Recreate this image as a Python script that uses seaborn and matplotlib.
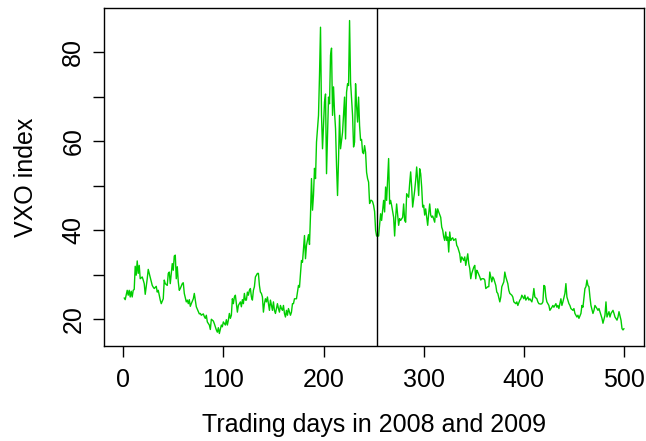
import matplotlib
matplotlib.use("Agg")
import matplotlib.pyplot as plt
import pandas as pd
import seaborn as sns
from matplotlib.ticker import FixedFormatter, FixedLocator

# VXO closing levels over the 2008-2009 trading days
trading_day = [
    1, 2, 4, 5, 6, 7, 8, 9, 10, 11, 12, 13, 14, 15, 16, 17, 19, 20, 21, 22,
    24, 25, 26, 27, 29, 30, 31, 33, 34, 35, 37, 38, 40, 41, 42, 44, 45, 46, 47, 49,
    50, 51, 52, 53, 54, 55, 56, 57, 59, 60, 61, 63, 64, 65, 66, 67, 68, 70, 71, 72,
    73, 75, 76, 77, 78, 80, 81, 82, 83, 84, 86, 87, 88, 90, 91, 92, 93, 94, 95, 96,
    98, 99, 100, 102, 103, 104, 105, 106, 107, 108, 109, 110, 111, 112, 113, 114, 115, 117, 118, 119,
    120, 121, 122, 123, 124, 125, 126, 127, 128, 129, 130, 131, 132, 134, 135, 136, 137, 138, 139, 140,
    141, 142, 143, 144, 145, 146, 147, 148, 149, 150, 151, 152, 153, 154, 155, 156, 157, 158, 159, 160,
    161, 162, 163, 164, 165, 167, 168, 169, 170, 171, 173, 175, 176, 178, 179, 181, 182, 183, 185, 186,
    187, 188, 189, 190, 191, 192, 193, 195, 196, 197, 198, 199, 201, 202, 203, 205, 206, 207, 208, 209,
    210, 211, 212, 213, 214, 215, 216, 217, 219, 220, 221, 222, 223, 224, 225, 226, 227, 229, 230, 231,
    232, 233, 234, 235, 236, 237, 238, 239, 240, 241, 242, 243, 244, 245, 246, 247, 248, 249, 250, 251,
    252, 253, 255, 257, 258, 260, 261, 262, 263, 265, 266, 267, 268, 270, 271, 272, 273, 275, 276, 277,
    279, 280, 281, 282, 283, 285, 286, 287, 288, 289, 291, 292, 293, 294, 295, 296, 297, 298, 299, 300,
    301, 302, 303, 304, 305, 306, 307, 308, 309, 311, 312, 313, 314, 315, 317, 318, 319, 320, 321, 322,
    323, 324, 325, 326, 327, 328, 329, 330, 332, 333, 334, 336, 337, 338, 340, 341, 342, 344, 345, 346,
    347, 348, 350, 351, 352, 353, 354, 356, 357, 358, 360, 361, 362, 364, 365, 366, 368, 369, 370, 372,
    373, 374, 376, 377, 378, 380, 381, 382, 384, 385, 386, 388, 389, 390, 392, 393, 394, 396, 397, 398,
    400, 401, 402, 404, 405, 406, 408, 409, 410, 411, 413, 414, 415, 417, 418, 419, 420, 421, 422, 423,
    425, 426, 428, 429, 430, 432, 433, 434, 435, 437, 438, 439, 441, 442, 443, 445, 446, 447, 449, 450,
    451, 453, 454, 455, 457, 458, 459, 461, 462, 463, 464, 465, 466, 467, 469, 470, 471, 473, 474, 475,
    477, 478, 479, 481, 482, 483, 485, 486, 487, 489, 490, 491, 493, 494, 495, 497, 498, 499, 500,
]
vxo = [
    24.8, 24.4, 26.5, 25.4, 26.5, 25.0, 26.3, 25.0, 26.5, 26.7, 31.9, 29.9, 33.1, 30.3, 32.1, 29.1, 29.5, 28.8, 28.0, 25.6,
    29.1, 31.2, 30.3, 29.5, 27.6, 27.2, 26.9, 27.4, 26.1, 26.5, 24.3, 23.5, 24.6, 28.8, 28.0, 27.6, 30.3, 30.6, 28.0, 32.5,
    31.0, 34.2, 34.4, 29.1, 31.8, 28.4, 26.5, 26.9, 28.0, 28.2, 25.8, 23.9, 24.3, 23.5, 24.4, 22.9, 23.5, 24.6, 25.8, 24.3,
    22.8, 21.7, 21.2, 21.3, 20.9, 21.2, 20.6, 20.2, 20.9, 19.4, 18.7, 17.7, 20.0, 19.6, 19.0, 18.3, 17.6, 17.1, 18.1, 16.8,
    18.7, 18.3, 19.4, 18.7, 19.9, 18.7, 19.8, 21.3, 20.2, 20.9, 24.6, 23.5, 25.0, 25.4, 23.5, 21.6, 23.1, 23.9, 22.8, 24.4,
    23.5, 25.8, 24.3, 24.3, 26.1, 25.4, 26.5, 26.9, 25.0, 24.3, 26.5, 27.3, 29.5, 30.3, 30.3, 27.6, 26.1, 25.8, 25.0, 21.6,
    23.5, 24.6, 23.9, 25.0, 23.5, 22.0, 24.3, 23.1, 22.0, 23.9, 22.0, 21.3, 22.4, 23.5, 22.4, 21.6, 23.1, 22.4, 22.0, 23.1,
    21.3, 20.5, 22.0, 20.9, 22.4, 20.9, 21.6, 23.5, 23.5, 24.6, 24.6, 27.6, 27.2, 33.2, 32.8, 38.8, 33.6, 36.6, 39.0, 36.8,
    43.4, 51.6, 44.5, 47.9, 53.9, 51.6, 59.8, 65.8, 74.8, 85.6, 65.8, 58.3, 68.8, 70.6, 52.7, 69.9, 68.4, 79.3, 80.9, 65.8,
    72.2, 66.5, 62.8, 54.5, 47.8, 56.0, 65.8, 58.3, 62.0, 65.8, 69.9, 60.5, 71.0, 72.9, 72.5, 87.1, 73.3, 65.8, 58.7, 59.8,
    72.9, 68.0, 64.3, 69.9, 63.5, 60.2, 60.4, 57.5, 57.2, 59.0, 57.5, 53.0, 51.6, 50.8, 46.0, 46.7, 46.7, 46.4, 45.6, 44.2,
    40.0, 38.7, 38.7, 43.7, 42.2, 46.7, 44.1, 49.7, 46.7, 56.1, 45.9, 46.7, 45.6, 42.9, 38.7, 42.9, 45.9, 41.1, 42.6, 42.2,
    42.9, 45.9, 42.2, 41.8, 48.2, 47.4, 50.5, 53.1, 49.7, 45.2, 48.9, 51.2, 54.2, 51.2, 47.8, 53.8, 52.7, 49.7, 45.2, 45.6,
    43.4, 44.8, 42.9, 41.1, 43.7, 45.9, 43.4, 42.9, 43.2, 41.8, 44.8, 42.9, 44.8, 44.1, 42.9, 40.7, 40.0, 38.5, 37.7, 39.6,
    37.7, 38.5, 35.1, 39.6, 37.7, 38.1, 38.3, 37.7, 38.1, 36.6, 36.2, 34.7, 32.8, 34.0, 33.2, 34.0, 32.1, 34.7, 32.5, 31.4,
    29.1, 30.3, 31.7, 32.1, 29.1, 31.0, 30.6, 29.5, 28.8, 29.1, 29.1, 28.8, 26.9, 27.3, 27.3, 30.6, 28.4, 29.5, 29.1, 27.6,
    26.1, 25.8, 23.9, 25.0, 27.3, 28.4, 30.6, 29.5, 28.0, 26.5, 25.8, 25.4, 25.0, 23.9, 23.5, 23.9, 23.1, 24.3, 24.6, 25.4,
    24.6, 25.4, 24.3, 25.0, 24.3, 24.6, 23.9, 25.0, 26.9, 25.0, 24.6, 23.9, 23.5, 23.4, 23.5, 23.9, 27.6, 27.4, 25.0, 23.9,
    23.1, 22.0, 22.7, 23.1, 22.7, 23.5, 22.7, 23.1, 22.4, 24.6, 23.1, 23.9, 25.8, 28.0, 25.0, 23.5, 23.1, 22.4, 22.0, 22.4,
    21.3, 20.5, 20.9, 20.2, 21.3, 23.1, 22.7, 26.9, 27.3, 28.8, 27.6, 27.3, 25.0, 23.1, 21.3, 22.0, 23.1, 22.4, 22.0, 22.4,
    20.9, 20.2, 19.1, 20.9, 23.9, 20.5, 21.7, 20.5, 21.3, 22.0, 21.3, 20.5, 19.8, 20.5, 21.7, 19.8, 17.9, 17.6, 17.9,
]

break_day = 253
x_ticks = [0, 100, 200, 300, 400, 500]
y_ticks = [20, 30, 40, 50, 60, 70, 80]
y_tick_labels = ["20", "", "40", "", "60", "", "80"]

sns.set_theme(style="ticks")
plt.rcParams["font.family"] = ["Liberation Sans", "DejaVu Sans"]

series = pd.DataFrame({"day": trading_day, "vxo": vxo})

fig = plt.figure(figsize=(6.46, 4.41), dpi=100)
ax = fig.add_axes([0.1613, 0.2154, 0.8356, 0.7664])

sns.lineplot(data=series, x="day", y="vxo", color="#00CD00", linewidth=1.0,
             estimator=None, ax=ax)
ax.axvline(break_day, color="black", linewidth=1.0)

# R-style 4% padding around the data range
x_lo, x_hi = 1, 500
x_pad = 0.04 * (x_hi - x_lo)
ax.set_xlim(x_lo - x_pad, x_hi + x_pad)
y_lo, y_hi = series["vxo"].min(), series["vxo"].max()
y_pad = 0.04 * (y_hi - y_lo)
ax.set_ylim(y_lo - y_pad, y_hi + y_pad)

ax.xaxis.set_major_locator(FixedLocator(x_ticks))
ax.yaxis.set_major_locator(FixedLocator(y_ticks))
ax.yaxis.set_major_formatter(FixedFormatter(y_tick_labels))

for side in ["left", "right", "top", "bottom"]:
    ax.spines[side].set_visible(True)
    ax.spines[side].set_color("black")
    ax.spines[side].set_linewidth(1.0)

ax.tick_params(axis="both", direction="out", length=7.6, width=1.0,
               color="black", labelcolor="black", labelsize=18)
ax.tick_params(axis="x", pad=8)
ax.tick_params(axis="y", labelrotation=90, pad=6)
for lbl in ax.get_yticklabels():
    lbl.set_verticalalignment("center")

ax.set_xlabel("Trading days in 2008 and 2009", fontsize=18, color="black", labelpad=15)
ax.set_ylabel("VXO index", fontsize=18, color="black", labelpad=17)

fig.savefig("out.png", dpi=100, facecolor="white")
